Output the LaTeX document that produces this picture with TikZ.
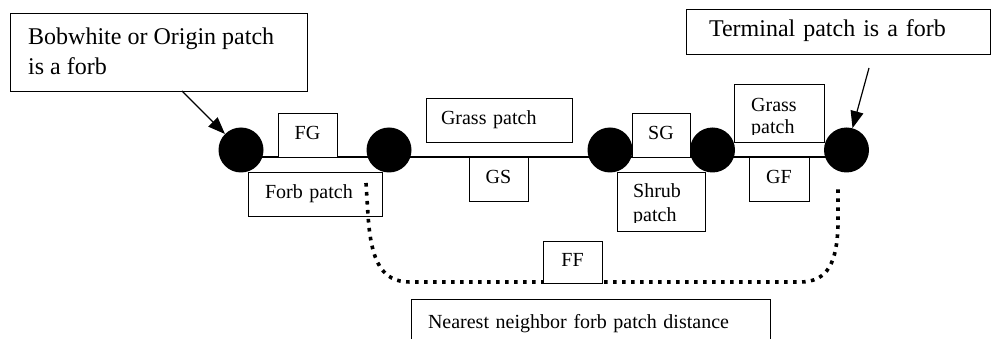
\documentclass[tikz,border=0pt]{standalone}
\usepackage{fontspec}
\setmainfont{Liberation Serif}
\usetikzlibrary{arrows.meta}
\begin{document}
\begin{tikzpicture}[x=1pt,y=-1pt,
  box/.style={draw, line width=0.9pt, fill=white, inner sep=0pt,
    font=\fontsize{20}{24}\selectfont, text height=14pt, text depth=4pt},
  bigbox/.style={box, font=\fontsize{24}{30}\selectfont, text height=16pt, text depth=5.5pt},
  lbl/.style={inner sep=0pt, anchor=base west, font=\fontsize{20}{24}\selectfont},
  biglbl/.style={lbl, font=\fontsize{24}{30}\selectfont},
  patchdot/.style={circle, fill=black, draw=none, minimum size=45pt, inner sep=0pt},
  arr/.style={line width=1.2pt, -{Triangle[length=17pt,width=13pt]}},
  dots/.style={line width=3.6pt, dash pattern=on 3.6pt off 5.4pt}]
\useasboundingbox (0,0) rectangle (991,339);
\clip (0,0) rectangle (991,339);

% patch nodes (positions)
\coordinate (p1) at (241,150);
\coordinate (p2) at (389,150);
\coordinate (p3) at (610,150);
\coordinate (p4) at (712.5,150);
\coordinate (p5) at (846.5,150);

% main line
\draw[line width=1.2pt] ([yshift=-7pt]p1) -- ([yshift=-7pt]p5);

% callout boxes
\node[bigbox, minimum width=297pt, minimum height=78pt] (bob) at (158.5,52) {};
\node[biglbl] (bobA) at (28,45) {Bobwhite or Origin patch};
\node[biglbl] (bobB) at (28,75) {is a forb};

\node[bigbox, minimum height=45pt, text width=258pt, inner xsep=23pt, align=left] (term) at (838,31.5) {Terminal patch is a forb};

% transition boxes
\node[box, minimum width=59pt, minimum height=44pt] (fg) at (307.5,135) {FG};
\node[box, minimum height=44pt, text width=100pt, inner xsep=17pt, align=left] (forb) at (315,194) {Forb patch};
\node[box, minimum height=44pt, text width=116pt, inner xsep=15pt, align=left] (grass) at (499,120) {Grass patch};
\node[box, minimum width=59pt, minimum height=44pt] (gs) at (498.5,179) {GS};
\node[box, minimum width=58pt, minimum height=44pt] (sg) at (661,135) {SG};
\node[box, minimum width=88pt, minimum height=59pt] (shrub) at (661,201.5) {};
\begin{scope}
  \clip (617,172) rectangle (705,222.5);
  \node[lbl] (shrubA) at (633,198) {Shrub};
  \node[lbl] (shrubB) at (633,221.5) {patch};
\end{scope}
\node[box, minimum width=90pt, minimum height=58pt] (grassb) at (779,113) {};
\begin{scope}
  \clip (734,84) rectangle (824,134.5);
  \node[lbl] (grassbA) at (751,112) {Grass};
  \node[lbl] (grassbB) at (751,134) {patch};
\end{scope}
\node[box, minimum width=60pt, minimum height=44pt] (gf) at (779,179) {GF};

% nearest neighbour path
\coordinate (d1) at (366,183);
\coordinate (d2) at (838,184);
\draw[dots] (d1) -- (368,215) .. controls (371,262) and (382,282) .. (410,282)
  -- (800,282) .. controls (828,282) and (837,262) .. (838,225) -- (d2);
\node[box, minimum width=59pt, minimum height=42pt] (ff) at (572.5,262) {FF};

\node[box, minimum height=46pt, text width=325pt, inner xsep=17pt, align=left, text height=14pt, text depth=2pt] (nn) at (590.5,322) {Nearest neighbor forb patch distance};

% patches
\node[patchdot] (c1) at (p1) {};
\node[patchdot] (c2) at (p2) {};
\node[patchdot] (c3) at (p3) {};
\node[patchdot] (c4) at (p4) {};
\node[patchdot] (c5) at (p5) {};

% arrows
\coordinate (a1) at (182,91);
\coordinate (a2) at (869,68);
\draw[arr] (a1) -- (c1);
\draw[arr] (a2) -- (c5);
\end{tikzpicture}
\end{document}
